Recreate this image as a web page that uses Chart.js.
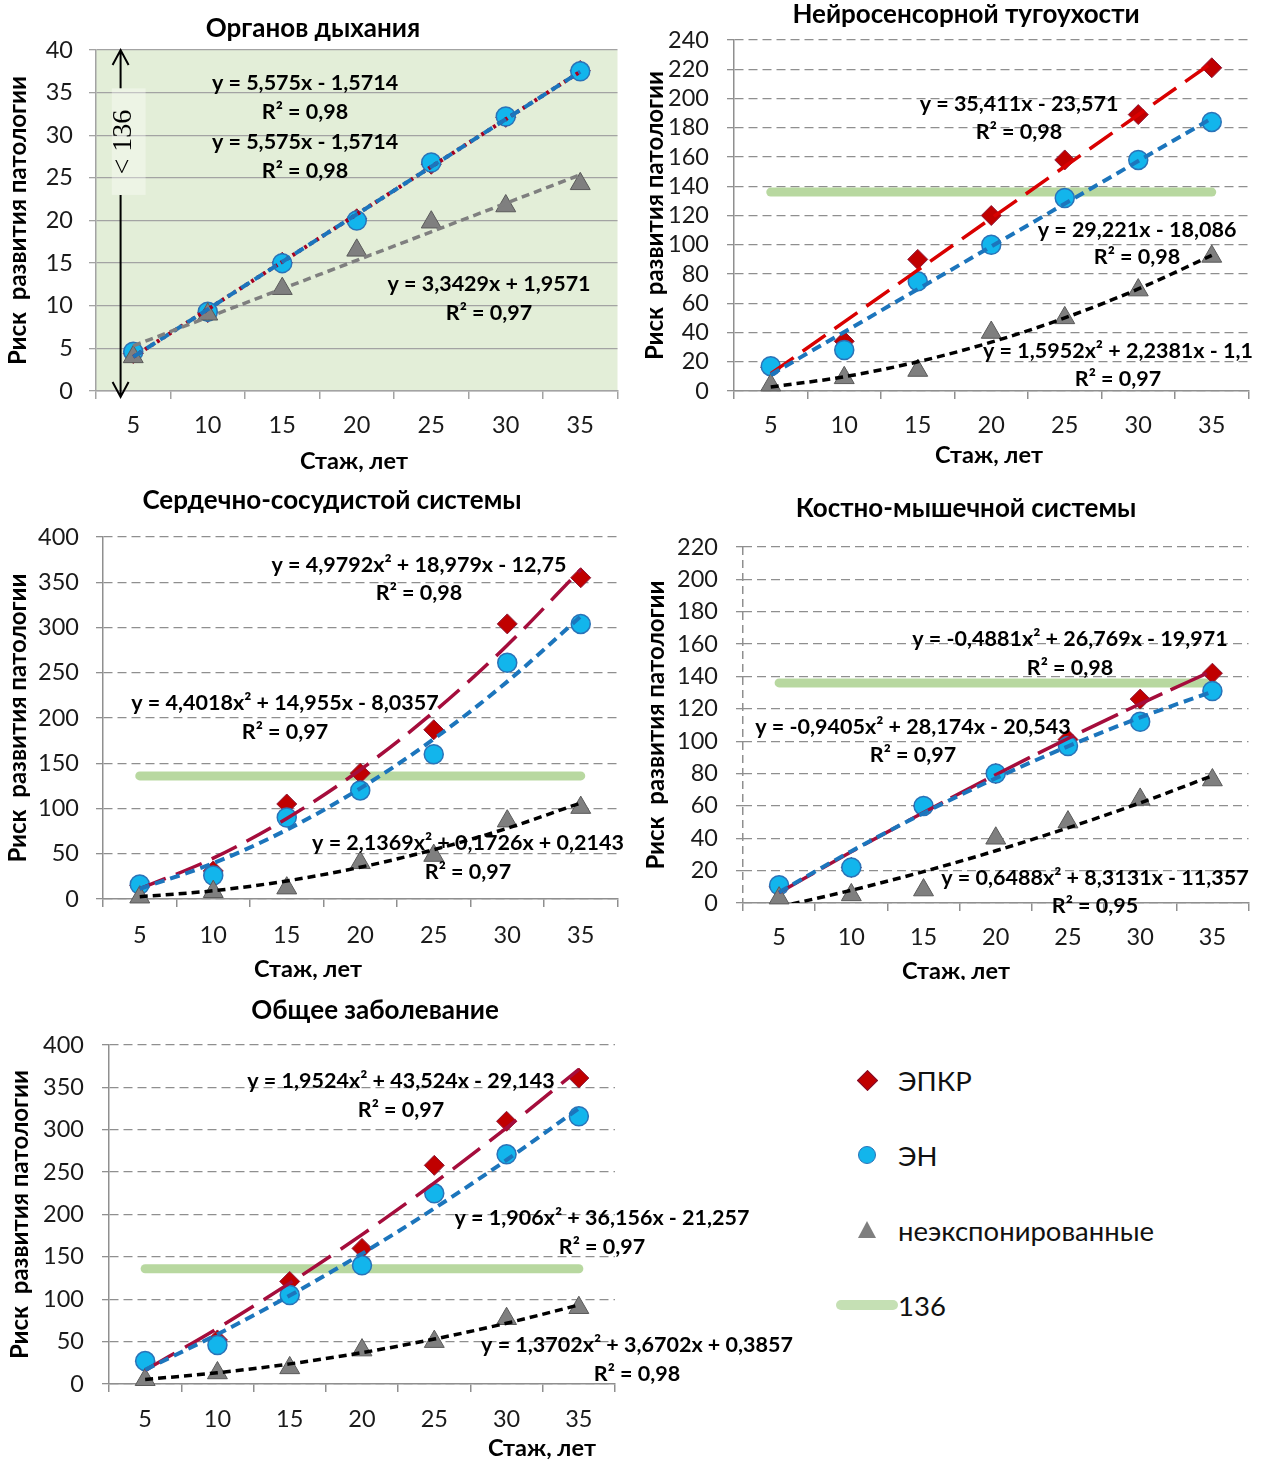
<!DOCTYPE html>
<html lang="ru">
<head>
<meta charset="utf-8">
<title>Риск развития патологии</title>
<script src="https://cdn.jsdelivr.net/npm/chart.js@4.4.1/dist/chart.umd.min.js"></script>
<style>
html, body { margin: 0; padding: 0; background: #fff; overflow: hidden; }
#page { position: relative; width: 1261px; height: 1460px; }
canvas { position: absolute; }
.lg { position: absolute; font-family: Lato, "Open Sans", sans-serif; font-size: 27.5px; color: #111; transform: translateY(-50%); white-space: nowrap; }
.mk { position: absolute; }
</style>
</head>
<body>
<div id="page">
  <div class="mk" style="left:860px;top:1073px;width:13px;height:13px;background:#C00000;border:1px solid #7a1030;transform:rotate(45deg);"></div>
  <div class="lg" style="left:898px;top:1080px;">ЭПКР</div>
  <div class="mk" style="left:858px;top:1146px;width:16px;height:16px;border-radius:50%;background:#12B5EC;border:1.5px solid #2A73B8;"></div>
  <div class="lg" style="left:898px;top:1155px;">ЭН</div>
  <div class="mk" style="left:858px;top:1221px;width:0;height:0;border-left:9px solid transparent;border-right:9px solid transparent;border-bottom:17px solid #7F7F7F;"></div>
  <div class="lg" style="left:898px;top:1230px;">неэкспонированные</div>
  <div class="mk" style="left:836px;top:1300px;width:62px;height:10px;border-radius:5px;background:#C5E0B4;"></div>
  <div class="lg" style="left:898px;top:1305px;">136</div>
</div>
<script>
// стаж, лет
const stazh = [5, 10, 15, 20, 25, 30, 35];
const porog = 136;

// Органов дыхания
const dyhEpkr = [4.4, 9.2, 15.1, 20.2, 26.6, 32.1, 37.6];
const dyhEn = [4.6, 9.3, 15, 20, 26.8, 32.2, 37.5];
const dyhNe = [4, 9, 12, 16.5, 19.8, 21.7, 24.3];
// Нейросенсорной тугоухости
const slEpkr = [16, 34, 90, 120, 158, 189, 221];
const slEn = [17, 28, 75, 100, 132, 158, 184];
const slNe = [4, 9, 14, 40, 50, 69, 92];
// Сердечно-сосудистой системы
const ssEpkr = [15, 31, 105, 139, 187, 304, 355];
const ssEn = [16, 26, 90, 120, 160, 261, 304];
const ssNe = [2, 8, 12, 40, 48, 86, 101];
// Костно-мышечной системы
const kmEpkr = [10, 22, 60, 80, 101, 126, 142];
const kmEn = [11, 22, 60, 80, 97, 112, 131];
const kmNe = [3, 5, 8, 40, 50, 64, 76];
// Общее заболевание
const obEpkr = [27, 52, 121, 160, 258, 310, 361];
const obEn = [27, 46, 105, 140, 225, 271, 316];
const obNe = [5, 13, 19, 40, 50, 77, 90];

// коэффициенты линий тренда a*x^2 + b*x + c (x = 1..7)
const dyhTrend = [[0, 5.575, -1.5714], [0, 5.575, -1.5714], [0, 3.3429, 1.9571]];
const slTrend = [[0, 35.411, -23.571], [0, 29.221, -18.086], [1.5952, 2.2381, -1.1]];
const ssTrend = [[4.9792, 18.979, -12.75], [4.4018, 14.955, -8.0357], [2.1369, 0.1726, 0.2143]];
const kmTrend = [[-0.4881, 26.769, -19.971], [-0.9405, 28.174, -20.543], [0.6488, 8.3131, -11.357]];
const obTrend = [[1.9524, 43.524, -29.143], [1.906, 36.156, -21.257], [1.3702, 3.6702, 0.3857]];

const FONT = 'Lato, "Open Sans", sans-serif';
const GREEN = 'rgba(176,212,150,0.9)';

function points(vals) {
  return stazh.map((x, i) => ({ x: x, y: vals[i] }));
}
function trendPoints(c) {
  return stazh.map((x, i) => ({ x: x, y: c[0] * (i + 1) * (i + 1) + c[1] * (i + 1) + c[2] }));
}

// заголовок, подпись оси X, уравнения, стрелка "< 136"
function textPlugin(p) {
  return {
    id: 'panelText',
    beforeDraw(chart) {
      if (!p.fill) return;
      const a = chart.chartArea;
      chart.ctx.save();
      chart.ctx.fillStyle = p.fill;
      chart.ctx.fillRect(a.left, a.top, a.width, a.height);
      chart.ctx.restore();
    },
    afterDatasetsDraw(chart) {
      const ctx = chart.ctx;
      const ox = p.box[0], oy = p.box[1];
      ctx.save();
      ctx.fillStyle = '#000';
      ctx.textAlign = 'center';
      ctx.textBaseline = 'middle';
      ctx.font = 'bold 26px ' + FONT;
      ctx.fillText(p.title[0], p.title[1] - ox, p.title[2] - oy);
      ctx.font = 'bold 23.5px ' + FONT;
      ctx.fillText('Стаж, лет', p.xTitle[0] - ox, p.xTitle[1] - oy);
      ctx.font = 'bold 21.5px ' + FONT;
      p.labels.forEach(l => {
        ctx.fillText(l[0], l[2] - ox, l[3] - oy);
        ctx.fillText(l[1], l[2] - ox, l[4] - oy);
      });
      if (p.arrow) {
        const xs = chart.scales.x, ys = chart.scales.y;
        const ax = xs.getPixelForValue(4.15);
        const top = ys.getPixelForValue(40), bot = ys.getPixelForValue(-0.7);
        const g1 = ys.getPixelForValue(35.5), g2 = ys.getPixelForValue(23);
        ctx.fillStyle = 'rgba(255,255,255,0.35)';
        ctx.fillRect(xs.getPixelForValue(3.56), g1, xs.getPixelForValue(5.83) - xs.getPixelForValue(3.56), g2 - g1);
        ctx.strokeStyle = '#000';
        ctx.lineWidth = 2;
        ctx.beginPath();
        ctx.moveTo(ax, top); ctx.lineTo(ax, g1);
        ctx.moveTo(ax, g2); ctx.lineTo(ax, bot);
        ctx.moveTo(ax - 8, top + 15); ctx.lineTo(ax, top); ctx.lineTo(ax + 8, top + 15);
        ctx.moveTo(ax - 8, bot - 15); ctx.lineTo(ax, bot); ctx.lineTo(ax + 8, bot - 15);
        ctx.stroke();
        ctx.translate(xs.getPixelForValue(4.35), ys.getPixelForValue(29.2));
        ctx.rotate(-Math.PI / 2);
        ctx.fillStyle = '#000';
        ctx.font = '28px "Liberation Serif", "DejaVu Serif", serif';
        ctx.fillText('< 136', 0, 0);
      }
      ctx.restore();
    }
  };
}

function buildChart(p) {
  const [bl, bt, bw, bh] = p.box;
  const [pl, pr, pt, pb] = p.plot;
  const cv = document.createElement('canvas');
  cv.width = bw;
  cv.height = bh;
  cv.style.left = bl + 'px';
  cv.style.top = bt + 'px';
  cv.style.width = bw + 'px';
  cv.style.height = bh + 'px';
  document.getElementById('page').appendChild(cv);

  const tickSize = 23.5;
  const yTitleSize = 24;
  const xAxisH = bt + bh - pb;
  const xTickPad = p.xTickY - pb - 8 - tickSize * 1.2 / 2;
  const yAxisW = pl - bl;
  const yTickPad = pl - 7 - p.yTickR;
  const yTitlePad = p.yTitleX - bl - yTitleSize * 1.2 / 2;
  const gridColor = p.fill ? '#A3A3A3' : '#8F8F8F';

  const datasets = [];
  if (p.green) {
    datasets.push({ label: '136', data: [{ x: 5, y: porog }, { x: 35, y: porog }], showLine: true,
      borderColor: GREEN, borderWidth: 9, borderCapStyle: 'round', pointRadius: 0, order: 10 });
  }
  datasets.push({ label: 'ЭПКР', data: points(p.epkr), pointStyle: 'rectRot', pointRadius: 10,
    backgroundColor: '#C00000', borderColor: '#8B1A3A', borderWidth: 1, order: 9, clip: false });
  datasets.push({ label: 'ЭН', data: points(p.en), pointStyle: 'circle', pointRadius: 9.5,
    backgroundColor: '#12B5EC', borderColor: '#2A73B8', borderWidth: 1.5, order: 8, clip: false });
  datasets.push({ label: 'неэкспонированные', data: points(p.ne), pointStyle: 'triangle', pointRadius: 11.5,
    backgroundColor: '#7F7F7F', borderColor: '#5A5A5A', borderWidth: 1, order: 7, clip: false });
  datasets.push({ label: 'тренд ЭПКР', data: trendPoints(p.trend[0]), showLine: true, pointRadius: 0,
    borderColor: p.redColor, borderWidth: p.fill ? 4 : 3.5, borderDash: p.redDash,
    cubicInterpolationMode: 'monotone', order: 3 });
  datasets.push({ label: 'тренд ЭН', data: trendPoints(p.trend[1]), showLine: true, pointRadius: 0,
    borderColor: '#1C75BC', borderWidth: 4, borderDash: [10, 6],
    cubicInterpolationMode: 'monotone', order: 2 });
  datasets.push({ label: 'тренд неэкспонированные', data: trendPoints(p.trend[2]), showLine: true, pointRadius: 0,
    borderColor: p.fill ? '#7F7F7F' : '#000', borderWidth: 3.5, borderDash: [8, 5],
    cubicInterpolationMode: 'monotone', order: 1 });

  new Chart(cv, {
    type: 'scatter',
    data: { datasets: datasets },
    options: {
      responsive: false,
      animation: false,
      events: [],
      layout: { padding: { left: 0, top: pt - bt, right: bl + bw - pr, bottom: 0 } },
      plugins: { legend: { display: false }, tooltip: { enabled: false } },
      scales: {
        x: {
          type: 'linear', min: 2.5, max: 37.5,
          afterBuildTicks: s => { s.ticks = stazh.map(v => ({ value: v })); },
          afterFit: s => { s.height = xAxisH; },
          grid: {
            offset: true, drawOnChartArea: !!p.dashedAxis, drawTicks: true, tickLength: 8,
            color: c => (p.dashedAxis && c.index !== 0) ? 'rgba(0,0,0,0)' : gridColor,
            tickColor: gridColor, lineWidth: 1.5
          },
          border: { display: true, color: gridColor, width: 1.5, dash: p.dashedAxis ? [8, 5] : [] },
          ticks: { font: { family: FONT, size: tickSize }, color: '#1a1a1a', padding: xTickPad, maxRotation: 0, autoSkip: false }
        },
        y: {
          min: 0, max: p.yMax,
          afterFit: s => { s.width = yAxisW; },
          ticks: { stepSize: p.yStep, autoSkip: false, font: { family: FONT, size: tickSize }, color: '#1a1a1a', padding: yTickPad },
          grid: { color: gridColor, lineWidth: 1.3, tickLength: 7 },
          border: { display: !p.dashedAxis, color: gridColor, width: 1.5, dash: p.fill ? [] : [9, 5] },
          title: { display: true, text: 'Риск  развития патологии', color: '#000',
            font: { family: FONT, size: yTitleSize, weight: 'bold' }, padding: { top: yTitlePad, bottom: 0 } }
        }
      }
    },
    plugins: [textPlugin(p)]
  });
}

const panels = [
  { box: [0, 0, 630, 480], plot: [96, 622, 50, 391], title: ['Органов дыхания', 313, 29],
    yTitleX: 18, xTickY: 425, xTitle: [354, 461], yTickR: 73, yMax: 40, yStep: 5,
    epkr: dyhEpkr, en: dyhEn, ne: dyhNe, trend: dyhTrend,
    fill: '#E3EED8', green: false, arrow: true, redColor: '#A50021', redDash: [3, 4],
    labels: [['y = 5,575x - 1,5714', 'R² = 0,98', 305, 83, 112],
             ['y = 5,575x - 1,5714', 'R² = 0,98', 305, 142, 171],
             ['y = 3,3429x + 1,9571', 'R² = 0,97', 489, 284, 313]] },
  { box: [630, 0, 631, 480], plot: [734, 1258, 40, 391], title: ['Нейросенсорной тугоухости', 966, 15],
    yTitleX: 655, xTickY: 425, xTitle: [989, 455], yTickR: 709, yMax: 240, yStep: 20,
    epkr: slEpkr, en: slEn, ne: slNe, trend: slTrend,
    green: true, redColor: '#D90000', redDash: [28, 11],
    labels: [['y = 35,411x - 23,571', 'R² = 0,98', 1019, 104, 132],
             ['y = 29,221x - 18,086', 'R² = 0,98', 1137, 230, 257],
             ['y = 1,5952x² + 2,2381x - 1,1', 'R² = 0,97', 1118, 351, 379]] },
  { box: [0, 480, 630, 500], plot: [103, 626, 537, 899], title: ['Сердечно-сосудистой системы', 332, 501],
    yTitleX: 18, xTickY: 935, xTitle: [308, 969], yTickR: 79, yMax: 400, yStep: 50,
    epkr: ssEpkr, en: ssEn, ne: ssNe, trend: ssTrend,
    green: true, redColor: '#A50D3C', redDash: [28, 11],
    labels: [['y = 4,9792x² + 18,979x - 12,75', 'R² = 0,98', 419, 565, 593],
             ['y = 4,4018x² + 14,955x - 8,0357', 'R² = 0,97', 285, 703, 732],
             ['y = 2,1369x² + 0,1726x + 0,2143', 'R² = 0,97', 468, 843, 872]] },
  { box: [630, 480, 631, 500], plot: [743, 1256, 547, 903], title: ['Костно-мышечной системы', 966, 509],
    yTitleX: 656, xTickY: 937, xTitle: [956, 971], yTickR: 718, yMax: 220, yStep: 20,
    epkr: kmEpkr, en: kmEn, ne: kmNe, trend: kmTrend,
    green: true, dashedAxis: true, redColor: '#A50D3C', redDash: [40, 9],
    labels: [['y = -0,4881x² + 26,769x - 19,971', 'R² = 0,98', 1070, 639, 668],
             ['y = -0,9405x² + 28,174x - 20,543', 'R² = 0,97', 913, 727, 755],
             ['y = 0,6488x² + 8,3131x - 11,357', 'R² = 0,95', 1095, 878, 906]] },
  { box: [0, 990, 820, 470], plot: [109, 615, 1045, 1384], title: ['Общее заболевание', 375, 1011],
    yTitleX: 20, xTickY: 1419, xTitle: [542, 1448], yTickR: 84, yMax: 400, yStep: 50,
    epkr: obEpkr, en: obEn, ne: obNe, trend: obTrend,
    green: true, redColor: '#A50D3C', redDash: [34, 12],
    labels: [['y = 1,9524x² + 43,524x - 29,143', 'R² = 0,97', 401, 1081, 1110],
             ['y = 1,906x² + 36,156x - 21,257', 'R² = 0,97', 602, 1218, 1247],
             ['y = 1,3702x² + 3,6702x + 0,3857', 'R² = 0,98', 637, 1345, 1374]] }
];

panels.forEach(buildChart);
</script>
</body>
</html>
